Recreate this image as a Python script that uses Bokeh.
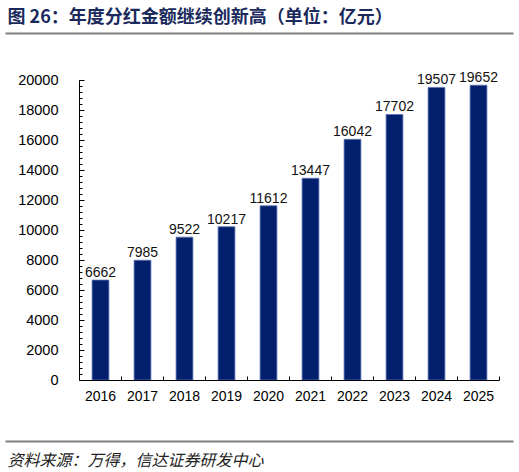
from bokeh.plotting import figure
from bokeh.models import Range1d, FixedTicker
from bokeh.embed import file_html
from bokeh.resources import INLINE
from bokeh.core.properties import value

years = ["2016", "2017", "2018", "2019", "2020", "2021", "2022", "2023", "2024", "2025"]
dividends = [6662, 7985, 9522, 10217, 11612, 13447, 16042, 17702, 19507, 19652]
y_ticks = list(range(0, 20001, 2000))
y_minor = list(range(0, 20001, 400))
title_text = "图 26：年度分红金额继续创新高（单位：亿元）"
source_text = "资料来源：万得，信达证券研发中心"

W, H = 519, 472
CJK = "Noto Sans CJK SC"
LAT = "Liberation Sans"

n = len(years)
# layout: pixel positions of the chart area on the canvas
X0_PX, X1_PX = 79.0, 499.0      # x = 0 and x = n
Y0_PX, Y1_PX = 379.5, 79.5      # y = 0 and y = 20000
YMAX = 20000
sx = (X1_PX - X0_PX) / n
sy = (Y0_PX - Y1_PX) / YMAX


def dx(px):
    return (px - X0_PX) / sx


def dy(py):
    return (Y0_PX - py) / sy


p = figure(width=W, height=H, x_range=Range1d(dx(0), dx(W)), y_range=Range1d(dy(H), dy(0)),
           output_backend="svg", toolbar_location=None, title=None, min_border=0)
p.grid.visible = False
p.outline_line_color = None

xs = [i + 0.5 for i in range(n)]
p.vbar(x=xs, top=dividends, width=0.4, fill_color="#03206e", line_color="#5a72b4", line_width=0.8)
p.text(x=xs, y=dividends, text=[str(v) for v in dividends], y_offset=-3,
       text_baseline="bottom", text_align="center", text_font=value(LAT),
       text_font_size="14px", text_color="#111111")

ya = p.yaxis[0]
ya.fixed_location = 0
ya.bounds = (0, YMAX)
ya.ticker = FixedTicker(ticks=y_ticks, minor_ticks=y_minor)
ya.major_tick_in = 5
ya.major_tick_out = 0
ya.minor_tick_in = 3
ya.minor_tick_out = 0
ya.major_label_standoff = 21
ya.axis_line_color = "#000000"
ya.major_tick_line_color = "#000000"
ya.minor_tick_line_color = "#000000"
ya.major_label_text_font = LAT
ya.major_label_text_font_size = "14.5px"
ya.major_label_text_color = "#000000"

xa = p.xaxis[0]
xa.fixed_location = 0
xa.bounds = (0, n)
xa.ticker = FixedTicker(ticks=xs, minor_ticks=list(range(0, n + 1)))
xa.major_label_overrides = {x: y for x, y in zip(xs, years)}
xa.major_tick_in = 0
xa.major_tick_out = 0
xa.minor_tick_in = 4
xa.minor_tick_out = 0
xa.major_label_standoff = 11
xa.axis_line_color = "#000000"
xa.minor_tick_line_color = "#000000"
xa.major_label_text_font = LAT
xa.major_label_text_font_size = "14px"
xa.major_label_text_color = "#000000"

# header and footer
p.text(x=[dx(7)], y=[dy(14)], text=[title_text], text_font=value(CJK), text_font_style="bold",
       text_font_size="18px", text_color="#1b2a5c", text_baseline="middle", text_align="left")
p.segment(x0=[dx(5), dx(5)], y0=[dy(33), dy(441)], x1=[dx(513), dx(513)], y1=[dy(33), dy(441)],
          line_color="#808080", line_width=2)
p.text(x=[dx(7)], y=[dy(458)], text=[source_text], text_font=value(CJK), text_font_style="italic",
       text_font_size="16px", text_color="#222222", text_baseline="middle", text_align="left")

open("out.html", "w").write(file_html(p, INLINE))
